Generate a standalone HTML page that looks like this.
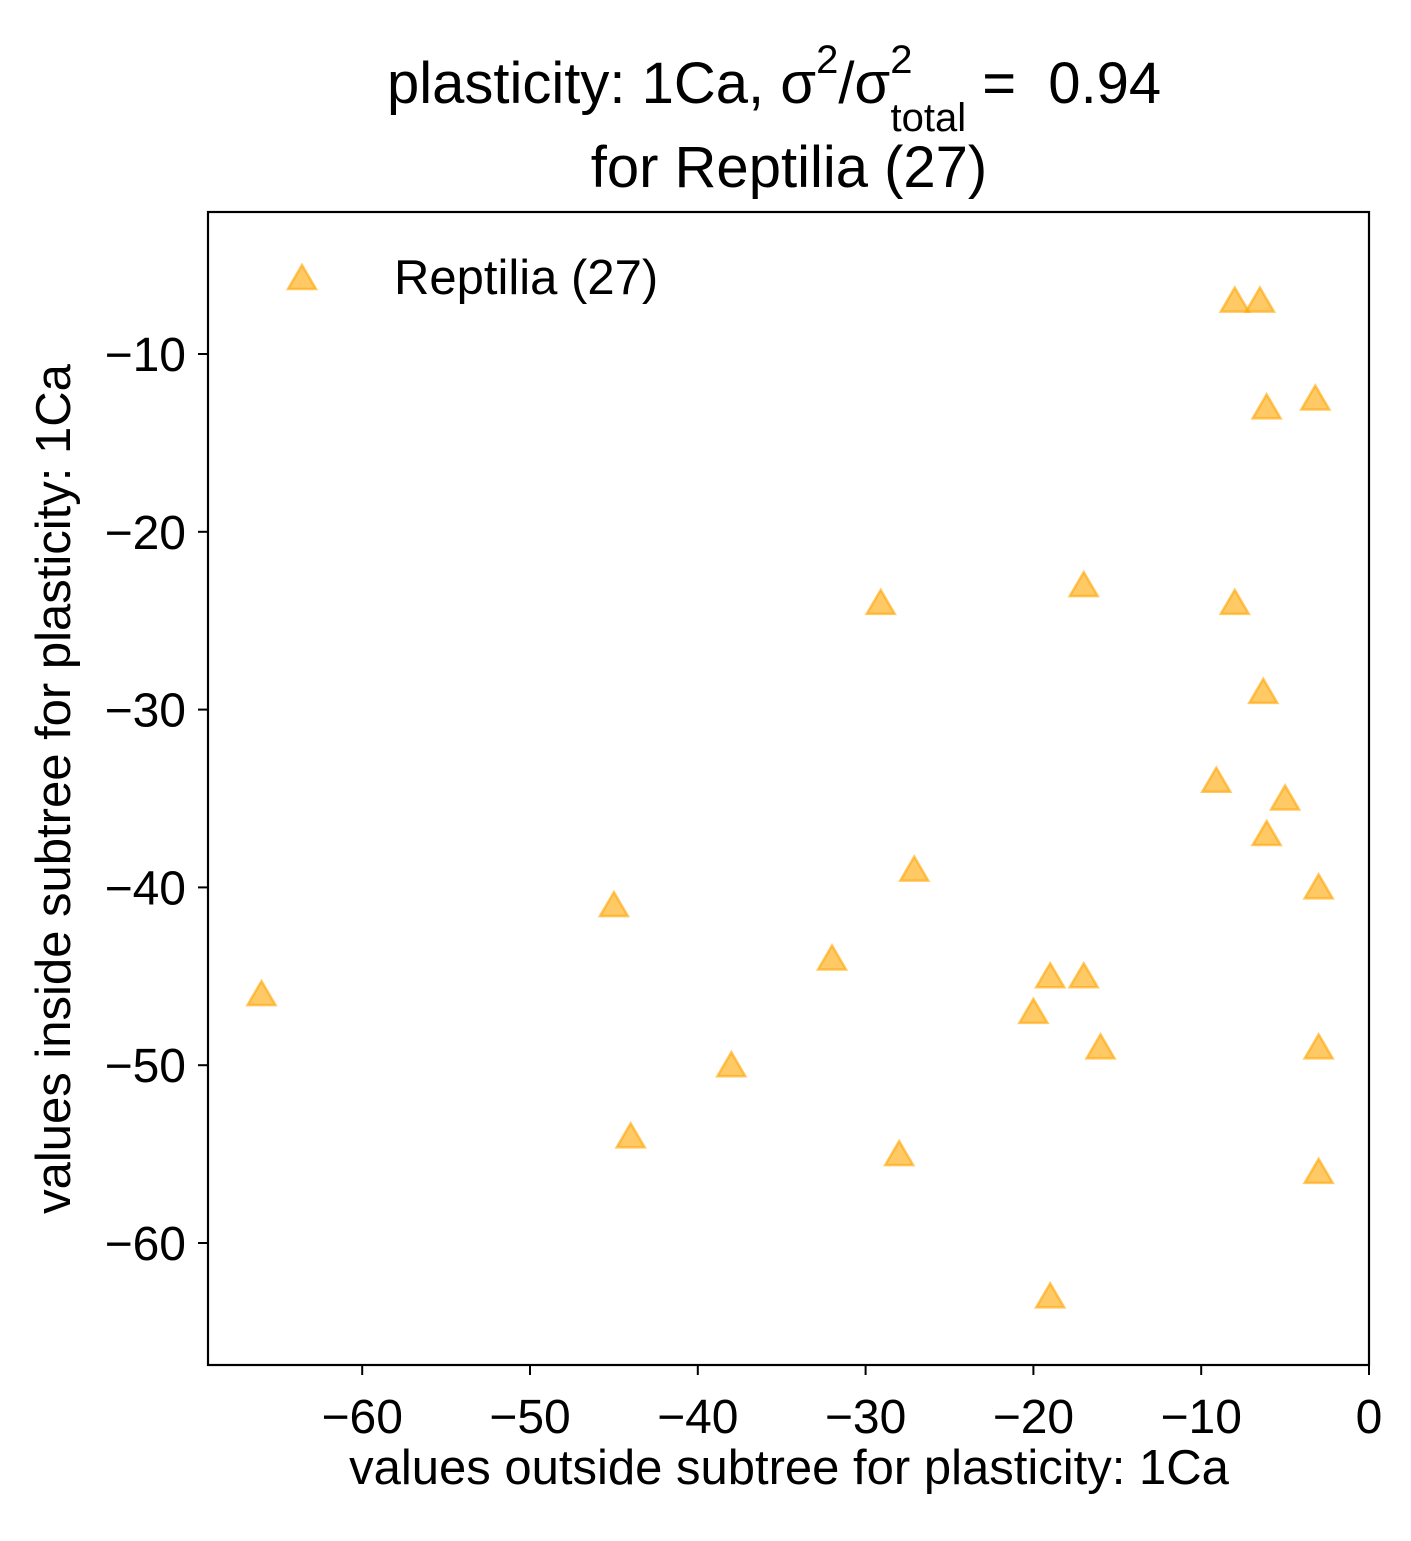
<!DOCTYPE html>
<html><head><meta charset="utf-8"><style>
body{margin:0;background:#fff;}
svg text{font-family:"Liberation Sans",Arial,sans-serif;fill:#000;}
</style></head><body>
<svg id="chart" width="1411" height="1536" viewBox="0 0 1411 1536" xmlns="http://www.w3.org/2000/svg">
<rect width="1411" height="1536" fill="#fff"/>
<text x="387" y="103" font-size="58">plasticity: 1Ca, σ<tspan dy="-30" font-size="40">2</tspan><tspan dy="30">/σ</tspan><tspan dy="-30" font-size="40">2</tspan><tspan dx="-22" dy="58" font-size="40">total</tspan><tspan dy="-28">&#160;=&#160;&#160;0.94</tspan></text>
<text x="789" y="187" font-size="58" text-anchor="middle">for Reptilia (27)</text>
<g id="marks"></g>
<g id="axes"></g>
<rect x="208" y="212" width="1161" height="1153" fill="none" stroke="#000" stroke-width="2.2"/>
<text x="789" y="1484" font-size="49" text-anchor="middle">values outside subtree for plasticity: 1Ca</text>
<text transform="translate(70,789) rotate(-90)" font-size="49" text-anchor="middle">values inside subtree for plasticity: 1Ca</text>
<g>
<path d="M302,265 L316,289 L288,289 Z" fill="rgba(255,165,0,0.6)" stroke="rgba(255,165,0,0.6)" stroke-width="2.5"/>
<text x="394" y="294" font-size="49">Reptilia (27)</text>
</g>
</svg>
<script>
const xVals=[-8,-6.5,-3.2,-6.1,-17,-29.1,-8,-6.3,-9.1,-5,-6.1,-27.1,-3,-45,-32,-66,-19,-17,-20,-16,-3,-38,-44,-28,-3,-19];
const yVals=[-7,-7,-12.5,-13,-23,-24,-24,-29,-34,-35,-37,-39,-40,-41,-44,-46,-45,-45,-47,-49,-49,-50,-54,-55,-56,-63];
const xTicks=[-60,-50,-40,-30,-20,-10,0];
const yTicks=[-10,-20,-30,-40,-50,-60];
const NS="http://www.w3.org/2000/svg";
function sx(v){return 1369+v*16.78;}
function sy(v){return 354-(v+10)*17.78;}
const marks=document.getElementById('marks');
for(let i=0;i<xVals.length;i++){
  const cx=sx(xVals[i]),cy=sy(yVals[i]);
  const p=document.createElementNS(NS,'path');
  p.setAttribute('d',`M${cx},${cy-13} L${cx+14},${cy+11} L${cx-14},${cy+11} Z`);
  p.setAttribute('fill','rgba(255,165,0,0.6)');
  p.setAttribute('stroke','rgba(255,165,0,0.6)');
  p.setAttribute('stroke-width','2.5');
  
  
  marks.appendChild(p);
}
const axes=document.getElementById('axes');
xTicks.forEach(t=>{
  const x=sx(t);
  const l=document.createElementNS(NS,'line');
  l.setAttribute('x1',x);l.setAttribute('x2',x);l.setAttribute('y1',1365);l.setAttribute('y2',1375);
  l.setAttribute('stroke','#000');l.setAttribute('stroke-width','2');
  
  
  axes.appendChild(l);
  const tx=document.createElementNS(NS,'text');
  tx.setAttribute('x',x);tx.setAttribute('y',1433);tx.setAttribute('font-size','48');tx.setAttribute('text-anchor','middle');
  tx.textContent=(t<0?'\u2212':'')+Math.abs(t);
  
  
  axes.appendChild(tx);
});
yTicks.forEach(t=>{
  const y=sy(t);
  const l=document.createElementNS(NS,'line');
  l.setAttribute('x1',198);l.setAttribute('x2',208);l.setAttribute('y1',y);l.setAttribute('y2',y);
  l.setAttribute('stroke','#000');l.setAttribute('stroke-width','2');
  
  
  axes.appendChild(l);
  const tx=document.createElementNS(NS,'text');
  tx.setAttribute('x',186);tx.setAttribute('y',y+17);tx.setAttribute('font-size','48');tx.setAttribute('text-anchor','end');
  tx.textContent=(t<0?'\u2212':'')+Math.abs(t);
  
  
  axes.appendChild(tx);
});
</script>
</body></html>
